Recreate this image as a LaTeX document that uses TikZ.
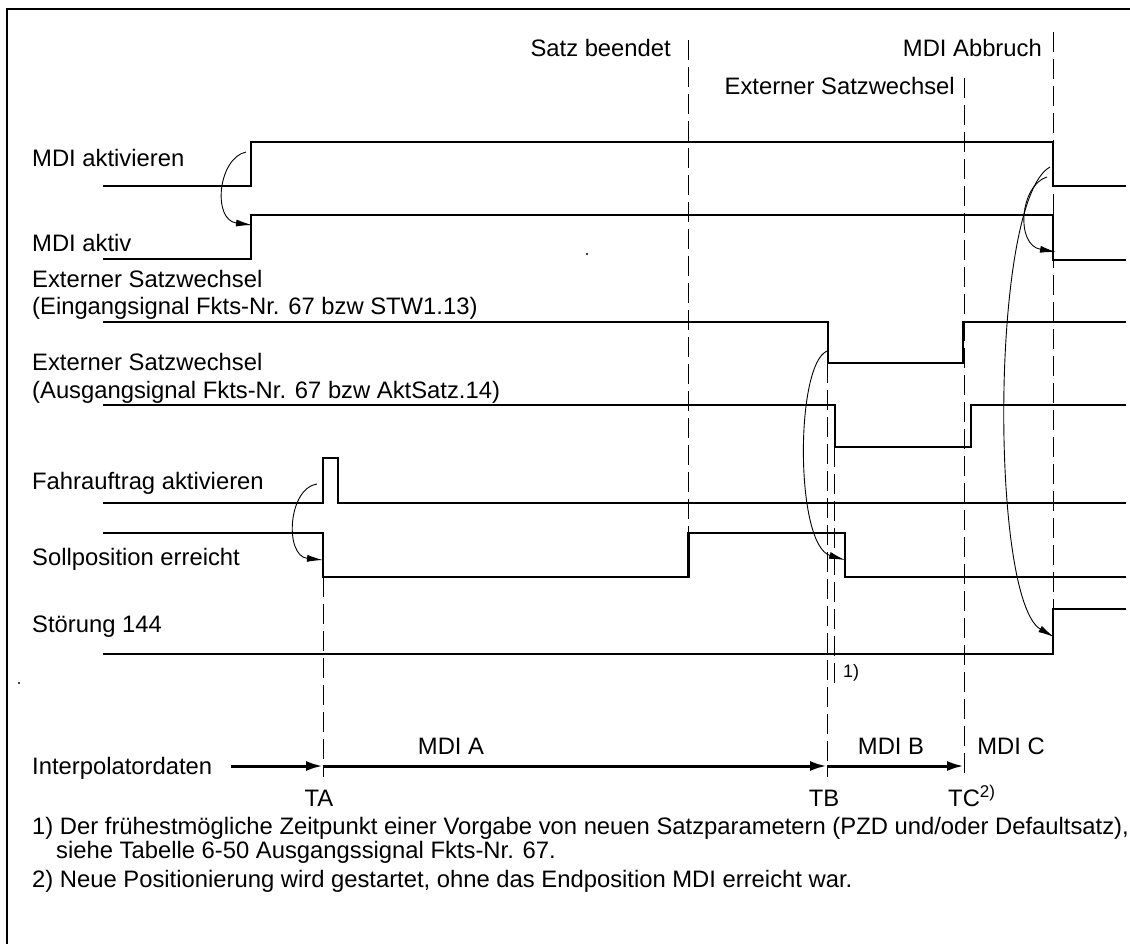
\documentclass[tikz,border=0pt]{standalone}
\usepackage{fontspec}
\setmainfont{Liberation Sans}
\usetikzlibrary{arrows.meta}
\begin{document}
\begin{tikzpicture}[x=1pt,y=-1pt,
  sig/.style={line width=2.4pt, line join=miter},
  guide/.style={line width=0.9pt, dash pattern=on 20pt off 7pt},
  cause/.style={line width=0.9pt, -{Latex[length=16pt,width=7pt]}},
  flow/.style={line width=3pt, -{Latex[length=17pt,width=10pt]}},
  lbl/.style={inner sep=0pt, font=\fontsize{23.8}{28}\selectfont},
  small/.style={inner sep=0pt, font=\fontsize{18}{20}\selectfont}]
\useasboundingbox (0,0) rectangle (1130,944);
\fill[white] (0,0) rectangle (1130,944);
% frame
\draw[line width=1.5pt] (7,944) -- (7,9) -- (1130,9);

% guide lines
\draw[guide] (688.5,40) -- (688.5,533);
\draw[guide] (964,78) -- (964,777);
\draw[guide] (1053,32) -- (1053,609);
\draw[guide] (323,577) -- (323,777);
\draw[guide] (827,363) -- (827,777);
\draw[guide] (834.5,447) -- (834.5,683);

% signals
\draw[sig] (103,186) -- (251,186) -- (251,142) -- (1053,142) -- (1053,186) -- (1126,186);
\draw[sig] (103,259) -- (251,259) -- (251,215) -- (1053,215) -- (1053,260) -- (1126,260);
\draw[sig] (103,322) -- (828,322) -- (828,363) -- (963,363) -- (963,322) -- (1126,322);
\draw[sig] (103,405) -- (835,405) -- (835,447) -- (971,447) -- (971,405) -- (1126,405);
\draw[sig] (103,503) -- (323,503) -- (323,458) -- (338,458) -- (338,503) -- (1126,503);
\draw[sig] (103,533) -- (323,533) -- (323,577) -- (688.5,577) -- (688.5,533) -- (845,533) -- (845,577) -- (1126,577);
\draw[sig] (103,654) -- (1053,654) -- (1053,609) -- (1126,609);

% cause arrows
\coordinate (c1s) at (246,152);  \coordinate (c1e) at (252,225);
\coordinate (c2s) at (317,484);  \coordinate (c2e) at (323,560);
\coordinate (c3s) at (827,351);  \coordinate (c3e) at (845,560);
\coordinate (c4s) at (1047,177); \coordinate (c4e) at (1056,252);
\coordinate (c5s) at (1050,167); \coordinate (c5e) at (1054,637);
\draw[cause] (c1s) .. controls (218,158) and (212,220) .. (c1e);
\draw[cause] (c2s) .. controls (288,488) and (284,556) .. (c2e);
\draw[cause] (c3s) .. controls (795,365) and (795,545) .. (c3e);
\draw[cause] (c4s) .. controls (1020,185) and (1015,245) .. (c4e);
\draw[cause] (c5s) .. controls (990,200) and (990,600) .. (c5e);

% interpolator data
\coordinate (i0) at (231,766);
\coordinate (iA) at (323,766);
\coordinate (iB) at (827,766);
\coordinate (iC) at (964,766);
\draw[flow] (i0) -- (iA);
\draw[flow] (iA) -- (iB);
\draw[flow] (iB) -- (iC);

% stray dots
\fill (587,254) circle (1.2);
\fill (19,683) circle (1.2);

% top labels
\node[lbl, anchor=base east] (tsb) at (671,57) {Satz beendet};
\node[lbl, anchor=base east] (tab) at (1042,57) {MDI Abbruch};
\node[lbl, anchor=base east] (tes) at (955,95) {Externer Satzwechsel};

% signal labels
\node[lbl, anchor=base west] (l1) at (32,167) {MDI aktivieren};
\node[lbl, anchor=base west] (l2) at (32,251.5) {MDI aktiv};
\node[lbl, anchor=base west] (l3) at (32,287.7) {Externer Satzwechsel};
\node[lbl, anchor=base west] (l3b) at (32,314) {(Eingangsignal Fkts-Nr. 67 bzw STW1.13)};
\node[lbl, anchor=base west] (l4) at (32,370.7) {Externer Satzwechsel};
\node[lbl, anchor=base west] (l4b) at (32,398) {(Ausgangsignal Fkts-Nr. 67 bzw AktSatz.14)};
\node[lbl, anchor=base west] (l5) at (32,489) {Fahrauftrag aktivieren};
\node[lbl, anchor=base west] (l6) at (32,565) {Sollposition erreicht};
\node[lbl, anchor=base west] (l7) at (32,632.7) {Störung 144};
\node[lbl, anchor=base west] (l8) at (32,774) {Interpolatordaten};

\node[small, anchor=base west] (n1) at (843,677) {1)};

\node[lbl, anchor=base] (ma) at (451,754) {MDI A};
\node[lbl, anchor=base] (mb) at (891,754) {MDI B};
\node[lbl, anchor=base] (mc) at (1011,754) {MDI C};
\node[lbl, anchor=base] (ta) at (319,806) {TA};
\node[lbl, anchor=base] (tb) at (824,806) {TB};
\node[lbl, anchor=base west] (tc) at (948,806) {TC\raisebox{9pt}{\fontsize{17}{17}\selectfont 2)}};

% footnotes
\node[lbl, anchor=base west] (f1) at (32,834) {1) Der frühestmögliche Zeitpunkt einer Vorgabe von neuen Satzparametern (PZD und/oder Defaultsatz),};
\node[lbl, anchor=base west] (f1b) at (56,858) {siehe Tabelle 6-50 Ausgangssignal Fkts-Nr. 67.};
\node[lbl, anchor=base west] (f2) at (32,887) {2) Neue Positionierung wird gestartet, ohne das Endposition MDI erreicht war.};
\end{tikzpicture}
\end{document}
